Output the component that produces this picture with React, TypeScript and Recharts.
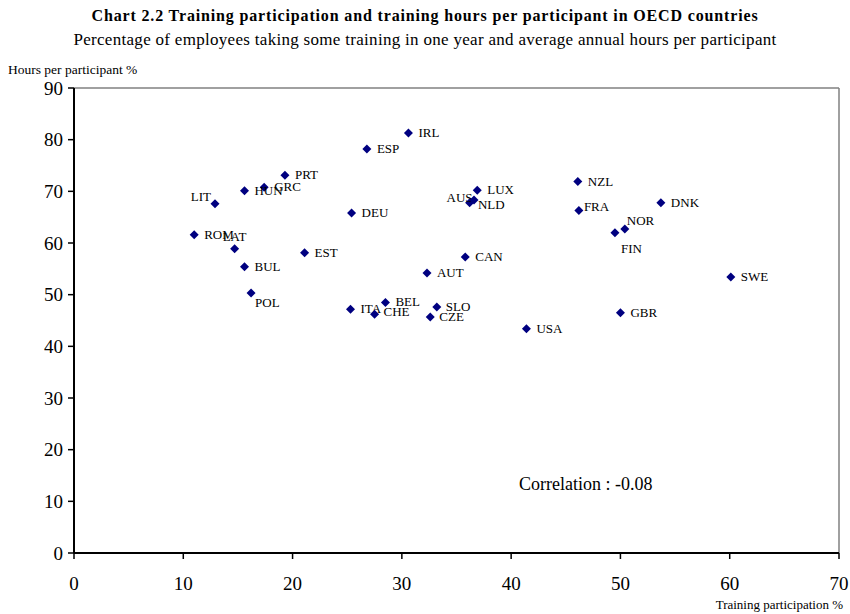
import { ReferenceLine, Scatter, ScatterChart, XAxis, YAxis } from 'recharts'

const COUNTRIES = [
  'IRL', 'ESP', 'PRT', 'GRC', 'HUN', 'LIT', 'DEU', 'ROM', 'LAT', 'EST', 'BUL',
  'AUT', 'POL', 'ITA', 'BEL', 'CHE', 'SLO', 'CZE', 'CAN', 'AUS', 'LUX', 'NLD',
  'NZL', 'FRA', 'DNK', 'NOR', 'FIN', 'GBR', 'USA', 'SWE',
]
const PARTICIPATION = [
  30.6, 26.8, 19.3, 17.4, 15.6, 12.9, 25.4, 11.0, 14.7, 21.1, 15.6,
  32.3, 16.2, 25.3, 28.5, 27.5, 33.2, 32.6, 35.8, 36.2, 36.9, 36.6,
  46.1, 46.2, 53.7, 50.4, 49.5, 50.0, 41.4, 60.1,
]
const HOURS = [
  81.3, 78.2, 73.1, 70.8, 70.1, 67.6, 65.8, 61.6, 58.9, 58.1, 55.4,
  54.2, 50.3, 47.2, 48.5, 46.2, 47.6, 45.7, 57.3, 67.8, 70.2, 68.3,
  71.9, 66.3, 67.8, 62.7, 62.0, 46.5, 43.4, 53.4,
]
const X_TICKS = [0, 10, 20, 30, 40, 50, 60, 70]
const Y_TICKS = [0, 10, 20, 30, 40, 50, 60, 70, 80, 90]

// label placement (dx, dy from marker centre, text anchor)
const LABEL_POS: Record<string, [number, number, string]> = {
  LIT: [-4, -3, 'end'],
  LAT: [-12, -8, 'start'],
  POL: [4, 14, 'start'],
  AUS: [3, -1, 'end'],
  NLD: [4, 9, 'start'],
  FRA: [5, 1, 'start'],
  NOR: [2, -4, 'start'],
  FIN: [6, 20, 'start'],
  SLO: [9, 4, 'start'],
  CZE: [9, 4, 'start'],
  CHE: [9, 2, 'start'],
}

const FONT = '"Liberation Serif", "Times New Roman", serif'
const NAVY = '#000080'

const data = COUNTRIES.map((name, i) => ({
  name,
  x: PARTICIPATION[i],
  y: HOURS[i],
}))

function Marker(props: any) {
  const { cx, cy, payload } = props
  const [dx, dy, anchor] = LABEL_POS[payload.name] ?? [10, 4, 'start']
  const r = 4.5
  return (
    <g>
      <polygon
        points={`${cx},${cy - r} ${cx + r},${cy} ${cx},${cy + r} ${cx - r},${cy}`}
        fill={NAVY}
      />
      <text
        x={cx + dx}
        y={cy + dy}
        textAnchor={anchor}
        fontSize={13}
        fontFamily={FONT}
        fill="#000"
      >
        {payload.name}
      </text>
    </g>
  )
}

export default function App() {
  return (
    <div
      style={{
        position: 'absolute',
        left: 0,
        top: 0,
        width: 850,
        height: 614,
        background: '#fff',
        fontFamily: FONT,
      }}
    >
      <div
        style={{
          position: 'absolute',
          top: 7,
          width: 850,
          textAlign: 'center',
          fontWeight: 'bold',
          fontSize: 16,
          letterSpacing: 0.85,
        }}
      >
        Chart 2.2 Training participation and training hours per participant in OECD countries
      </div>
      <div
        style={{
          position: 'absolute',
          top: 30,
          width: 850,
          textAlign: 'center',
          fontSize: 17,
          letterSpacing: 0.3,
        }}
      >
        Percentage of employees taking some training in one year and average annual hours per participant
      </div>
      <div style={{ position: 'absolute', left: 8, top: 62, fontSize: 13.5 }}>
        Hours per participant %
      </div>
      <div style={{ position: 'absolute', right: 7, top: 597, fontSize: 13 }}>
        Training participation %
      </div>
      <div style={{ position: 'absolute', left: 519, top: 474, fontSize: 18 }}>
        Correlation : -0.08
      </div>
      <ScatterChart
        width={850}
        height={614}
        margin={{ top: 88, right: 11, bottom: 31, left: 14 }}
        style={{ position: 'absolute', left: 0, top: 0 }}
      >
        <XAxis
          type="number"
          dataKey="x"
          domain={[0, 70]}
          ticks={X_TICKS}
          height={30}
          axisLine={{ stroke: '#000', strokeWidth: 2 }}
          tickLine={{ stroke: '#000', strokeWidth: 1.5 }}
          tickSize={6}
          tickMargin={18}
          tick={{ fontSize: 19, fill: '#000', fontFamily: FONT }}
        />
        <YAxis
          type="number"
          dataKey="y"
          domain={[0, 90]}
          ticks={Y_TICKS}
          width={60}
          axisLine={{ stroke: '#000', strokeWidth: 2 }}
          tickLine={{ stroke: '#000', strokeWidth: 1.5 }}
          tickSize={6}
          tickMargin={5}
          tick={{ fontSize: 19, fill: '#000', fontFamily: FONT }}
        />
        <ReferenceLine y={90} stroke="#808080" strokeWidth={1.5} />
        <ReferenceLine x={70} stroke="#808080" strokeWidth={1.5} />
        <Scatter data={data} shape={Marker} isAnimationActive={false} />
      </ScatterChart>
    </div>
  )
}
